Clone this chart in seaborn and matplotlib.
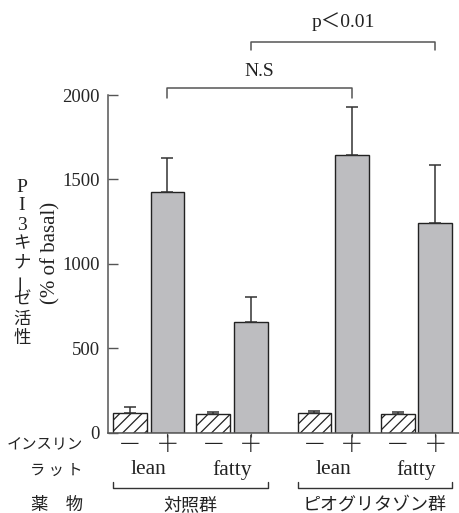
import numpy as np
import pandas as pd
import matplotlib
matplotlib.use("Agg")
import matplotlib.pyplot as plt
import matplotlib.transforms as mtransforms
import seaborn as sns

# ---- data ----
drug = ["対照群"] * 4 + ["ピオグリタゾン群"] * 4
rat = ["lean", "lean", "fatty", "fatty"] * 2
insulin = ["－", "＋"] * 4
values = [115, 1428, 111, 654, 118, 1645, 111, 1240]
errors = [35, 199, 13, 152, 12, 286, 13, 346]
yticks = [0, 500, 1000, 1500, 2000]
ylabel_chars = ["P", "I", "3", "キ", "ナ", "ー", "ゼ", "活", "性"]
ylabel_unit = "(% of basal)"
row_labels = ["インスリン", "ラ ッ ト", "薬　物"]
ns_label = "N.S"
p_label = "p＜0.01"

sns.set_theme(style="white")
plt.rcParams["font.family"] = ["Liberation Serif", "Noto Sans CJK JP", "DejaVu Sans"]
plt.rcParams["hatch.linewidth"] = 0.9
plt.rcParams["hatch.color"] = "#222222"
CJK = ["Noto Sans CJK JP", "DejaVu Sans"]

# ---- layout positions (computed from group structure) ----
drug_levels = list(dict.fromkeys(drug))
rat_levels = list(dict.fromkeys(rat))
ins_levels = list(dict.fromkeys(insulin))
G, R = 4.92, 2.22
pos = [drug_levels.index(d) * G + rat_levels.index(r) * R + ins_levels.index(i)
       for d, r, i in zip(drug, rat, insulin)]
df = pd.DataFrame({"pos": pos, "value": values, "insulin": insulin,
                   "drug": drug, "rat": rat})

W, H = 460, 513
fig = plt.figure(figsize=(W / 100, H / 100), dpi=100)
ax_bottom_px = 432.7
ax = fig.add_axes([108 / W, (H - ax_bottom_px) / H, 1 - 108 / W, ax_bottom_px / H])

gray = "#bcbdc1"
sns.barplot(data=df, x="pos", y="value", hue="insulin", native_scale=True,
            dodge=False, width=0.9, palette={"－": "white", "＋": gray},
            edgecolor="#222222", linewidth=1.0, errorbar=None, legend=False, ax=ax)
for p in ax.patches:
    fc = p.get_facecolor()
    if fc[0] > 0.95 and fc[1] > 0.95:
        p.set_hatch("///")

ax.errorbar(pos, values, yerr=[np.zeros(len(errors)), errors], fmt="none",
            ecolor="#333333", elinewidth=1.1, capsize=4.3, capthick=1.1, zorder=1)

px_per_unit = (ax_bottom_px - 95) / 2000
ax.set_ylim(0, ax_bottom_px / px_per_unit)
ax.set_xlim(-22 / 37.5, (460 - 130) / 37.5)

spine_c = "#555555"
for s in ["top", "right"]:
    ax.spines[s].set_visible(False)
ax.spines["left"].set_bounds(0, 2000)
ax.spines["left"].set_color(spine_c)
ax.spines["bottom"].set_color(spine_c)
ax.spines["left"].set_linewidth(1.1)
ax.spines["bottom"].set_linewidth(1.1)

ax.set_yticks(yticks)
ax.set_yticklabels([str(t) for t in yticks], fontsize=13.5)
ax.tick_params(axis="y", direction="in", length=7, width=1, color=spine_c, pad=6, left=True)
plus_pos = [p for p, i in zip(pos, insulin) if i == "＋"]
ax.set_xticks(plus_pos)
ax.set_xticklabels([])
ax.tick_params(axis="x", direction="out", length=3, width=0.8, color=spine_c, bottom=True)
ax.set_xlabel("")
ax.set_ylabel("")
ax.grid(False)

# ---- rows of labels below the axis ----
tx = mtransforms.blended_transform_factory(ax.transData, fig.transFigure)
def fy(py):
    return (H - py) / H

for p, i in zip(pos, insulin):
    ax.text(p, fy(446), i, transform=tx, ha="center", va="center", fontsize=17,
            family=CJK, color="#222222", fontweight="light")
for r in rat_levels:
    for d in drug_levels:
        ps = [p for p, rr, dd in zip(pos, rat, drug) if rr == r and dd == d]
        ax.text(np.mean(ps), fy(470), r, transform=tx, ha="center", va="center",
                fontsize=15.5, color="#222222")
half = 0.45
for d in drug_levels:
    ps = [p for p, dd in zip(pos, drug) if dd == d]
    x0, x1 = min(ps) - half, max(ps) + half
    ax.plot([x0, x0, x1, x1], [fy(482), fy(488), fy(488), fy(482)], transform=tx,
            color="#333333", lw=1, clip_on=False)
    ax.text(np.mean(ps), fy(505), d, transform=tx, ha="center", va="center",
            fontsize=13, family=CJK, color="#222222")

for label, py, fs in zip(row_labels, [445, 470, 505], [11, 11, 12.5]):
    fig.text(83 / W, fy(py), label, ha="right", va="center", fontsize=fs,
             family=CJK, color="#222222")

# ---- y label ----
for k, ch in enumerate(ylabel_chars):
    rot = 90 if ch == "ー" else 0
    fs = 14 if ch.isascii() else 12.5
    fig.text(22 / W, fy(187 + k * 19), ch, ha="center", va="center",
             fontsize=fs, rotation=rot, color="#222222")
fig.text(51 / W, fy(253), ylabel_unit, ha="center", va="center",
         rotation=90, fontsize=15, color="#222222")

# ---- significance brackets ----
def bracket(i0, i1, ytop_px, yend_px, label, ytext_px):
    x0, x1 = pos[i0], pos[i1]
    yt = (ax_bottom_px - ytop_px) / px_per_unit
    ye = (ax_bottom_px - yend_px) / px_per_unit
    ax.plot([x0, x0, x1, x1], [ye, yt, yt, ye], color=spine_c, lw=1.1, clip_on=False)
    ax.text((x0 + x1) / 2, (ax_bottom_px - ytext_px) / px_per_unit, label,
            ha="center", va="center", fontsize=14, color="#222222")

bracket(1, 5, 88, 98, ns_label, 71)
bracket(3, 7, 42, 50, p_label, 22)

fig.savefig("out.png", dpi=100)
